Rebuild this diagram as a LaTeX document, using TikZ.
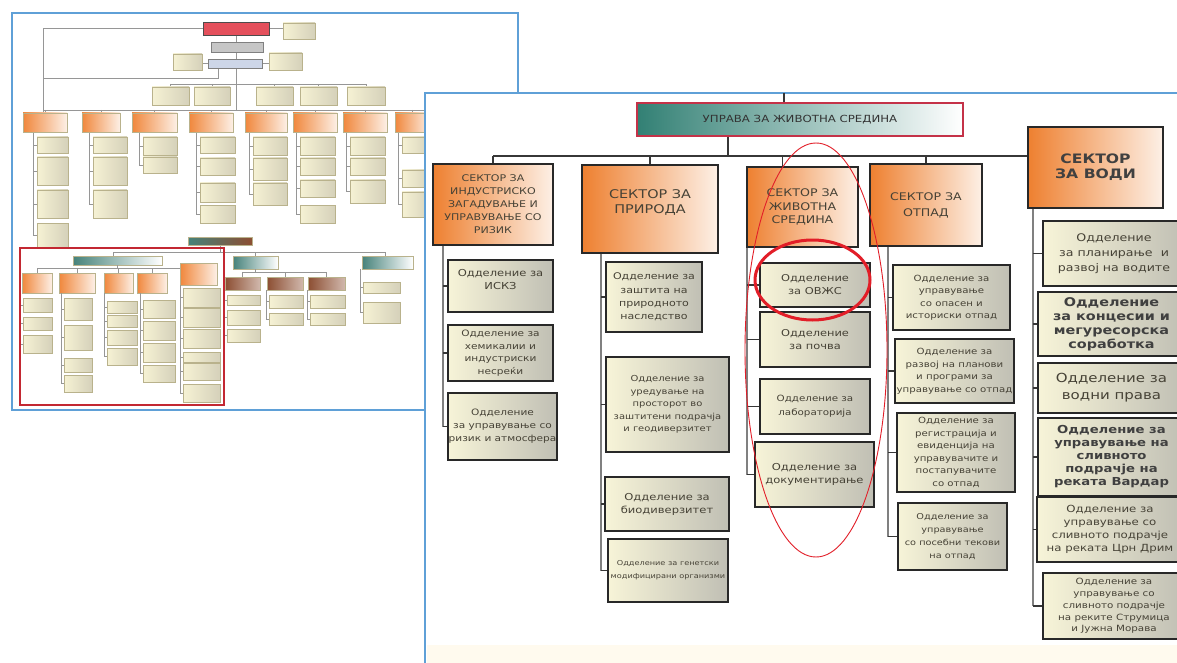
\documentclass[tikz,border=0pt]{standalone}
\usepackage{fontspec}
\setmainfont{DejaVu Sans}[FakeStretch=1.2]

\definecolor{panelblue}{RGB}{95,160,215}
\definecolor{secorange}{RGB}{238,128,48}
\definecolor{secpale}{RGB}{253,240,230}
\definecolor{deptcream}{RGB}{247,244,216}
\definecolor{deptgray}{RGB}{192,191,180}
\definecolor{topteal}{RGB}{50,128,116}
\definecolor{toppale}{RGB}{226,238,234}
\definecolor{topred}{RGB}{196,50,72}
\definecolor{boxline}{RGB}{40,40,40}
\definecolor{linkgray}{RGB}{55,55,55}
\definecolor{txtgray}{RGB}{70,66,54}
\definecolor{markred}{RGB}{226,30,40}
\definecolor{thumbred}{RGB}{195,40,50}
\definecolor{thumbcream}{RGB}{246,242,212}
\definecolor{thumbedge}{RGB}{185,178,140}
\definecolor{thumbline}{RGB}{150,150,150}
\definecolor{thumbor}{RGB}{240,135,60}
\definecolor{thumbteal}{RGB}{70,130,122}
\definecolor{thumbbrown}{RGB}{140,78,50}
\definecolor{bandcream}{RGB}{255,250,238}

\newcommand{\boxfont}[2]{\fontsize{#1}{#2}\selectfont}

\begin{document}
\begin{tikzpicture}[x=1pt, y=-1pt,
    panel/.style={draw=panelblue, line width=2.5pt},
    topbox/.style={draw=topred, line width=2pt, left color=topteal, middle color=toppale, right color=white, text=black!80, align=center},
    sector/.style={draw=boxline, line width=1.8pt, left color=secorange, right color=secpale, text=txtgray, align=center, inner sep=2pt},
    dept/.style={draw=boxline, line width=1.6pt, left color=deptcream, right color=deptgray, text=txtgray, align=center, inner sep=1pt},
    link/.style={draw=linkgray, line width=1.6pt},
    spine/.style={draw=gray, line width=1.2pt},
    tline/.style={draw=thumbline, line width=0.5pt},
    tbox/.style={draw=thumbedge, line width=0.6pt, left color=thumbcream, right color=thumbedge!60},
    tsec/.style={draw=thumbedge, line width=0.6pt, left color=thumbor, right color=secpale},
    tteal/.style={draw=thumbedge, line width=0.6pt, left color=thumbteal, right color=white},
    tbrown/.style={draw=thumbedge, line width=0.6pt, left color=thumbbrown, right color=thumbbrown!40}]
\useasboundingbox (0,0) rectangle (1177,663);
\clip (0,0) rectangle (1177,663);
\fill[white] (0,0) rectangle (1177,663);

\fill[white] (12,13) rectangle (518,410);
\draw[panel] (12,13) rectangle (518,410);
\draw[tline] (236,35) -- (236,110);
\draw[tline] (203,28) -- (43,28) -- (43,113);
\draw[tline] (43,78) -- (218,78) -- (218,68);
\draw[tline] (269,28) -- (283,28);
\draw[tline] (202,63) -- (208,63);
\draw[tline] (262,63) -- (269,63);
\draw[draw=black!70, line width=0.8pt, fill={rgb,255:red,228;green,80;blue,92}] (203,22) rectangle (269,35);
\draw[tbox] (283,23) rectangle (315,39);
\draw[draw=gray, line width=0.6pt, fill=gray!45] (211,42) rectangle (263,52);
\draw[draw=gray, line width=0.6pt, fill={rgb,255:red,205;green,214;blue,232}] (208,59) rectangle (262,68);
\draw[tbox] (173,54) rectangle (202,70);
\draw[tbox] (269,53) rectangle (302,70);
\draw[tline] (170,84) -- (366,84);
\foreach \a/\b in {152/189,194/230,256/293,300/337,347/385}{
  \draw[tline] ({(\a+\b)/2},84) -- ({(\a+\b)/2},87);
  \draw[tbox] (\a,87) rectangle (\b,105);
}
\draw[tline] (43,110) -- (430,110);
\foreach \a/\b/\p/\q/\e/\ys in {
    23/67/37/68/235/{137/153,157/185,190/218,223/247},
    82/120/93/127/204/{137/153,157/185,190/218},
    132/177/143/177/165/{137/155,157/173},
    189/233/200/235/214/{137/153,158/175,183/202,205/223},
    245/287/253/287/194/{137/155,158/180,183/205},
    293/337/300/335/214/{137/155,158/175,180/197,205/223},
    343/387/350/385/191/{137/155,158/175,180/203},
    395/430/402/432/205/{137/153,170/187,192/217}}{
  \draw[tline] ({(\a+\b)/2},110) -- ({(\a+\b)/2},113);
  \draw[tline] (\p-4,132) -- (\p-4,\e);
  \draw[tsec] (\a,113) rectangle (\b,132);
  \foreach \c/\d in \ys {
    \draw[tline] (\p-4,{(\c+\d)/2}) -- (\p,{(\c+\d)/2});
    \draw[tbox] (\p,\c) rectangle (\q,\d);
  }
}

\draw[tline] (220,245) -- (220,252);
\draw[tline] (113,252) -- (385,252);
\draw[tline] (113,252) -- (113,256);
\draw[tline] (255,252) -- (255,256);
\draw[tline] (385,252) -- (385,256);
\draw[draw=thumbedge, line width=0.6pt, left color=thumbteal, right color=thumbbrown] (188,237) rectangle (252,245);
\draw[tteal] (73,256) rectangle (162,265);
\draw[tteal] (233,256) rectangle (278,269);
\draw[tteal] (362,256) rectangle (413,269);
\draw[tline] (117,265) -- (117,268);
\draw[tline] (37,268) -- (198,268);
\foreach \a/\b/\t/\u in {22/52/273/293,59/95/273/293,104/133/273/293,137/167/273/293,180/217/263/285}{
  \draw[tline] ({(\a+\b)/2},268) -- ({(\a+\b)/2},\t);
  \draw[tsec] (\a,\t) rectangle (\b,\u);
}
\draw[tline] (255,269) -- (255,272);
\draw[tline] (242,272) -- (326,272);
\foreach \a/\b in {225/260,267/303,308/345}{
  \draw[tline] ({(\a+\b)/2},272) -- ({(\a+\b)/2},277);
  \draw[tbrown] (\a,277) rectangle (\b,290);
}
\foreach \p/\q/\s/\e/\ys in {
    23/52/290/345/{298/312,317/330,335/353},
    64/92/293/384/{298/320,325/350,358/372,375/392},
    107/137/293/357/{301/313,315/327,330/345,348/365},
    143/175/293/374/{300/318,321/340,343/362,365/382},
    183/220/285/393/{288/307,308/327,329/348,352/362,363/380,384/402},
    227/260/290/336/{295/305,310/325,329/342},
    269/303/290/319/{295/308,313/325},
    310/345/290/319/{295/308,313/325},
    363/400/269/313/{282/293,302/323}}{
  \draw[tline] (\p-3,\s) -- (\p-3,\e);
  \foreach \c/\d in \ys {
    \draw[tline] (\p-3,{(\c+\d)/2}) -- (\p,{(\c+\d)/2});
    \draw[tbox] (\p,\c) rectangle (\q,\d);
  }
}
\draw[thumbred, line width=1.5pt] (20,248) rectangle (224,405);

\fill[white] (425,93) rectangle (1195,690);
\fill[bandcream] (427,645) rectangle (1195,690);
\draw[panel] (425,93) rectangle (1195,690);

\node[topbox, minimum width=326pt, minimum height=33pt, font=\boxfont{9.8}{12}] (top) at (800,119.5) {УПРАВА ЗА ЖИВОТНА СРЕДИНА};

\node[sector, minimum width=120pt, minimum height=81pt, font=\boxfont{9.2}{13}] (s1) at (493,204.5) {СЕКТОР ЗА\\ИНДУСТРИСКО\\ЗАГАДУВАЊЕ И\\УПРАВУВАЊЕ СО\\РИЗИК};
\node[sector, minimum width=136pt, minimum height=88pt, font=\boxfont{12}{15}] (s2) at (650,209) {СЕКТОР ЗА\\ПРИРОДА\\~};
\node[sector, minimum width=111pt, minimum height=80pt, font=\boxfont{10.5}{13.3}] (s3) at (802.5,207) {СЕКТОР ЗА\\ЖИВОТНА\\СРЕДИНА};
\node[sector, minimum width=112pt, minimum height=82pt, font=\boxfont{10.5}{16}] (s4) at (926,205) {СЕКТОР ЗА\\ОТПАД};
\node[sector, minimum width=135pt, minimum height=81pt, font=\bfseries\boxfont{13}{15}, text=black!75] (s5) at (1095.5,167.5) {СЕКТОР\\ЗА ВОДИ};

\node[dept, minimum width=105pt, minimum height=52pt, font=\boxfont{9.6}{13}] (d11) at (500.5,286) {Одделение за\\ИСКЗ\\~};
\node[dept, minimum width=105pt, minimum height=56pt, font=\boxfont{8.8}{12.5}] (d12) at (500.5,353) {Одделение за\\хемикалии и\\индустриски\\несреќи};
\node[dept, minimum width=109pt, minimum height=67pt, font=\boxfont{8.8}{13}] (d13) at (502.5,426.5) {Одделение\\за управување со\\ризик и атмосфера};

\node[dept, minimum width=96pt, minimum height=70pt, font=\boxfont{9.2}{13.3}] (d21) at (654,297) {Одделение за\\заштита на\\природното\\наследство};
\node[dept, minimum width=123pt, minimum height=95pt, font=\boxfont{8.3}{12.5}] (d22) at (667.5,404.5) {Одделение за\\уредување на\\просторот во\\заштитени подрачја\\и геодиверзитет};
\node[dept, minimum width=124pt, minimum height=54pt, font=\boxfont{9.6}{13}] (d23) at (667,504) {Одделение за\\биодиверзитет};
\node[dept, minimum width=120pt, minimum height=63pt, font=\boxfont{6.8}{13}] (d24) at (668,570.5) {Одделение за генетски\\модифицирани организми};

\node[dept, minimum width=110pt, minimum height=44pt, font=\boxfont{9.5}{13}] (d31) at (815,285) {Одделение\\за ОВЖС};
\node[dept, minimum width=110pt, minimum height=55pt, font=\boxfont{9.5}{13}] (d32) at (815,339.5) {Одделение\\за почва};
\node[dept, minimum width=110pt, minimum height=55pt, font=\boxfont{8.6}{14}] (d33) at (815,406.5) {Одделение за\\лабораторија};
\node[dept, minimum width=119pt, minimum height=65pt, font=\boxfont{9.6}{13}] (d34) at (814.5,474.5) {Одделение за\\документирање};

\node[dept, minimum width=117pt, minimum height=65pt, font=\boxfont{8.5}{12.5}] (d41) at (951.5,297.5) {Одделение за\\управување\\со опасен и\\историски отпад};
\node[dept, minimum width=119pt, minimum height=64pt, font=\boxfont{8.5}{12.5}] (d42) at (954.5,371) {Одделение за\\развој на планови\\и програми за\\управување со отпад};
\node[dept, minimum width=118pt, minimum height=79pt, font=\boxfont{8.5}{12.5}] (d43) at (956,452.5) {Одделение за\\регистрација и\\евиденција на\\управувачите и\\постапувачите\\со отпад};
\node[dept, minimum width=109pt, minimum height=67pt, font=\boxfont{8.1}{13.3}] (d44) at (952.5,536.5) {Одделение за\\управување\\со посебни текови\\на отпад};

\node[dept, minimum width=142pt, minimum height=65pt, font=\boxfont{10.5}{15}] (d51) at (1114,253.5) {Одделение\\за планирање\ \ и\\развој на водите};
\node[dept, minimum width=147pt, minimum height=64pt, font=\bfseries\boxfont{12}{14}, text=black!75] (d52) at (1111.5,324) {Одделение\\за концесии и\\мегуресорска\\соработка};
\node[dept, minimum width=147pt, minimum height=50pt, font=\boxfont{12.5}{17}] (d53) at (1111.5,388) {Одделение за\\водни права};
\node[dept, minimum width=147pt, minimum height=78pt, font=\bfseries\boxfont{11}{13}, text=black!75] (d54) at (1111.5,457) {Одделение за\\управување на\\сливното\\подрачје на\\реката Вардар};
\node[dept, minimum width=146pt, minimum height=65pt, font=\boxfont{9.8}{13}] (d55) at (1110,529.5) {Одделение за\\управување со\\сливното подрачје\\на реката Црн Дрим};
\node[dept, minimum width=142pt, minimum height=66pt, font=\boxfont{8.6}{11.7}] (d56) at (1114,606) {Одделение за\\управување со\\сливното подрачје\\на реките Струмица\\и Јужна Морава};

\coordinate (up) at (784,93);
\coordinate (bus) at (728,156);
\coordinate (s3top) at ([xshift=-20pt]s3.north);
\draw[link] (up) -- (up |- top.north);
\draw[link] (bus |- top.south) -- (bus);
\draw[link] (s1.north |- bus) -- (s5.west |- bus);
\draw[link] (s1.north |- bus) -- (s1.north);
\draw[link] (s2.north |- bus) -- (s2.north);
\draw[link] (s3top |- bus) -- (s3top);
\draw[link] (s4.north |- bus) -- (s4.north);

\coordinate (c1) at (443,0);
\coordinate (c2) at (601,0);
\coordinate (c3) at (747,0);
\coordinate (c4) at (888,0);
\coordinate (c5) at (1033,0);
\draw[spine] (c1 |- s1.south) -- (c1 |- d13.west);
\draw[spine] (c2 |- s2.south) -- (c2 |- d24.west);
\draw[spine] (c3 |- s3.south) -- (c3 |- d34.west);
\draw[spine] (c4 |- s4.south) -- (c4 |- d44.west);
\draw[spine] (c5 |- s5.south) -- (c5 |- d56.west);
\draw[link] (c1 |- d11.west) -- (d11.west);
\draw[link] (c1 |- d12.west) -- (d12.west);
\draw[link] (c1 |- d13.west) -- (d13.west);
\draw[link] (c2 |- d21.west) -- (d21.west);
\draw[link] (c2 |- d22.west) -- (d22.west);
\draw[link] (c2 |- d23.west) -- (d23.west);
\draw[link] (c2 |- d24.west) -- (d24.west);
\draw[link] (c3 |- d31.west) -- (d31.west);
\draw[link] (c3 |- d32.west) -- (d32.west);
\draw[link] (c3 |- d33.west) -- (d33.west);
\draw[link] (c3 |- d34.west) -- (d34.west);
\draw[link] (c4 |- d41.west) -- (d41.west);
\draw[link] (c4 |- d42.west) -- (d42.west);
\draw[link] (c4 |- d43.west) -- (d43.west);
\draw[link] (c4 |- d44.west) -- (d44.west);
\draw[link] (c5 |- d51.west) -- (d51.west);
\draw[link] (c5 |- d52.west) -- (d52.west);
\draw[link] (c5 |- d53.west) -- (d53.west);
\draw[link] (c5 |- d54.west) -- (d54.west);
\draw[link] (c5 |- d55.west) -- (d55.west);
\draw[link] (c5 |- d56.west) -- (d56.west);

\draw[markred, line width=0.9pt] (816,350) ellipse [x radius=71, y radius=207];
\draw[markred, line width=3pt] (812.5,280) ellipse [x radius=57.5, y radius=40];
\end{tikzpicture}
\end{document}
